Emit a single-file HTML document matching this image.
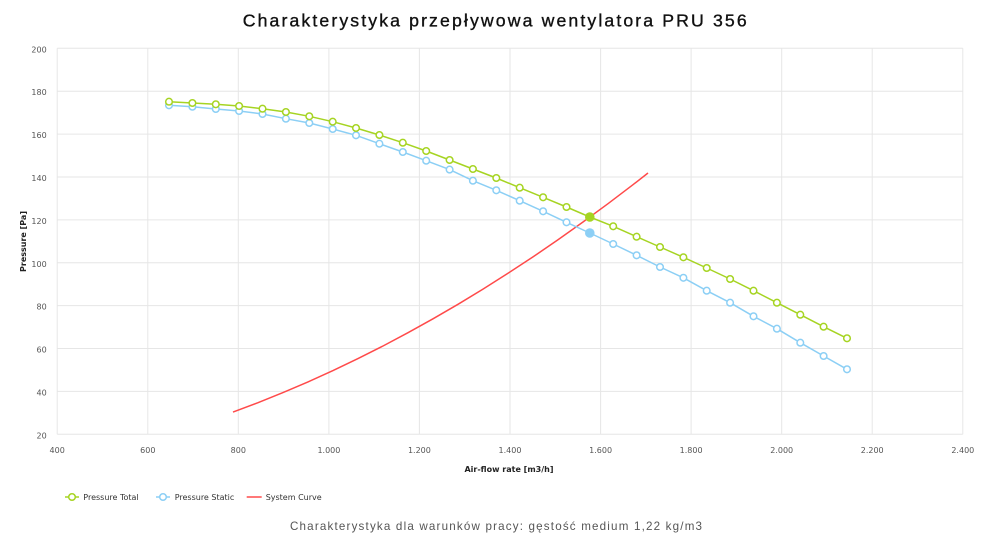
<!DOCTYPE html>
<html>
<head>
<meta charset="utf-8">
<style>
html,body{margin:0;padding:0;background:#fff;}
body{width:1000px;height:541px;overflow:hidden;}
svg{display:block;}
</style>
</head>
<body>
<svg width="1000" height="541" viewBox="0 0 1000 541" xmlns="http://www.w3.org/2000/svg">
<rect width="1000" height="541" fill="#fff"/>
<text x="242.7" y="26.7" font-family="Liberation Sans, sans-serif" font-size="17.7" fill="#111" stroke="#111" stroke-width="0.35" textLength="504" lengthAdjust="spacing">Charakterystyka przepływowa wentylatora PRU 356</text>

<g stroke="#e6e6e6" stroke-width="1" fill="none">
<line x1="57.2" y1="48.3" x2="962.8" y2="48.3"/>
<line x1="57.2" y1="91.2" x2="962.8" y2="91.2"/>
<line x1="57.2" y1="134.1" x2="962.8" y2="134.1"/>
<line x1="57.2" y1="177" x2="962.8" y2="177"/>
<line x1="57.2" y1="219.9" x2="962.8" y2="219.9"/>
<line x1="57.2" y1="262.8" x2="962.8" y2="262.8"/>
<line x1="57.2" y1="305.6" x2="962.8" y2="305.6"/>
<line x1="57.2" y1="348.5" x2="962.8" y2="348.5"/>
<line x1="57.2" y1="391.4" x2="962.8" y2="391.4"/>
<line x1="57.2" y1="434.3" x2="962.8" y2="434.3"/>
<line x1="57.2" y1="48.3" x2="57.2" y2="434.3"/>
<line x1="147.8" y1="48.3" x2="147.8" y2="434.3"/>
<line x1="238.3" y1="48.3" x2="238.3" y2="434.3"/>
<line x1="328.9" y1="48.3" x2="328.9" y2="434.3"/>
<line x1="419.4" y1="48.3" x2="419.4" y2="434.3"/>
<line x1="510" y1="48.3" x2="510" y2="434.3"/>
<line x1="600.6" y1="48.3" x2="600.6" y2="434.3"/>
<line x1="691.1" y1="48.3" x2="691.1" y2="434.3"/>
<line x1="781.7" y1="48.3" x2="781.7" y2="434.3"/>
<line x1="872.2" y1="48.3" x2="872.2" y2="434.3"/>
<line x1="962.8" y1="48.3" x2="962.8" y2="434.3"/>
</g>

<g font-family="DejaVu Sans, Verdana, sans-serif" font-size="8" fill="#555" text-anchor="end">
<text x="46.7" y="52.3">200</text>
<text x="46.7" y="95.2">180</text>
<text x="46.7" y="138.1">160</text>
<text x="46.7" y="181">140</text>
<text x="46.7" y="223.9">120</text>
<text x="46.7" y="266.8">100</text>
<text x="46.7" y="309.6">80</text>
<text x="46.7" y="352.5">60</text>
<text x="46.7" y="395.4">40</text>
<text x="46.7" y="438.3">20</text>
</g>
<g font-family="DejaVu Sans, Verdana, sans-serif" font-size="8" fill="#555" text-anchor="middle">
<text x="57.2" y="453">400</text>
<text x="147.8" y="453">600</text>
<text x="238.3" y="453">800</text>
<text x="328.9" y="453">1.000</text>
<text x="419.4" y="453">1.200</text>
<text x="510" y="453">1.400</text>
<text x="600.6" y="453">1.600</text>
<text x="691.1" y="453">1.800</text>
<text x="781.7" y="453">2.000</text>
<text x="872.2" y="453">2.200</text>
<text x="962.8" y="453">2.400</text>
</g>

<text x="509" y="472" font-family="DejaVu Sans, Verdana, sans-serif" font-size="8" font-weight="bold" fill="#222" text-anchor="middle">Air-flow rate [m3/h]</text>
<text transform="translate(26,241.5) rotate(-90)" x="0" y="0" font-family="DejaVu Sans, Verdana, sans-serif" font-size="8" font-weight="bold" fill="#222" text-anchor="middle">Pressure [Pa]</text>

<!-- System curve -->
<polyline fill="none" stroke="#ff4a4a" stroke-width="1.5" points="233,412.1 258,402.7 283,392.6 308,381.9 333,370.6 358,358.6 383,346 408,332.7 433,318.8 458,304.3 483,289.1 508,273.3 533,256.9 558,239.8 583,222 608,203.7 633,184.7 648,173"/>

<!-- Pressure Total -->
<polyline fill="none" stroke="#a6d422" stroke-width="1.5" points="169,101.7 192.4,103 215.8,104.3 239.1,106 262.5,108.7 285.9,112 309.3,116.3 332.7,121.7 356,128 379.4,135 402.8,142.7 426.2,151 449.6,160 472.9,169 496.3,178 519.7,187.7 543.1,197.3 566.5,207 589.8,217 613.2,226.3 636.6,236.7 660,247 683.4,257.3 706.7,268 730.1,279 753.5,290.7 776.9,302.7 800.3,314.7 823.6,326.7 847,338.3"/>
<!-- Pressure Static -->
<polyline fill="none" stroke="#8ccff5" stroke-width="1.5" points="169,105.3 192.4,106.7 215.8,109 239.1,111 262.5,114 285.9,118.7 309.3,123 332.7,129 356,135.3 379.4,143.7 402.8,152 426.2,160.7 449.6,169.6 472.9,180.7 496.3,190.3 519.7,200.7 543.1,211.3 566.5,222.3 589.8,233 613.2,244 636.6,255.3 660,267 683.4,277.8 706.7,290.7 730.1,302.7 753.5,316.3 776.9,328.7 800.3,342.7 823.6,356 847,369.3"/>

<g fill="#fff" stroke="#8ccff5" stroke-width="1.5">
<circle cx="169" cy="105.3" r="3.3"/><circle cx="192.4" cy="106.7" r="3.3"/><circle cx="215.8" cy="109" r="3.3"/><circle cx="239.1" cy="111" r="3.3"/><circle cx="262.5" cy="114" r="3.3"/><circle cx="285.9" cy="118.7" r="3.3"/><circle cx="309.3" cy="123" r="3.3"/><circle cx="332.7" cy="129" r="3.3"/><circle cx="356" cy="135.3" r="3.3"/><circle cx="379.4" cy="143.7" r="3.3"/><circle cx="402.8" cy="152" r="3.3"/><circle cx="426.2" cy="160.7" r="3.3"/><circle cx="449.6" cy="169.6" r="3.3"/><circle cx="472.9" cy="180.7" r="3.3"/><circle cx="496.3" cy="190.3" r="3.3"/><circle cx="519.7" cy="200.7" r="3.3"/><circle cx="543.1" cy="211.3" r="3.3"/><circle cx="566.5" cy="222.3" r="3.3"/><circle cx="613.2" cy="244" r="3.3"/><circle cx="636.6" cy="255.3" r="3.3"/><circle cx="660" cy="267" r="3.3"/><circle cx="683.4" cy="277.8" r="3.3"/><circle cx="706.7" cy="290.7" r="3.3"/><circle cx="730.1" cy="302.7" r="3.3"/><circle cx="753.5" cy="316.3" r="3.3"/><circle cx="776.9" cy="328.7" r="3.3"/><circle cx="800.3" cy="342.7" r="3.3"/><circle cx="823.6" cy="356" r="3.3"/><circle cx="847" cy="369.3" r="3.3"/>
</g>
<circle cx="589.8" cy="233" r="4.8" fill="#8ccff5"/>

<g fill="#fff" stroke="#a6d422" stroke-width="1.5">
<circle cx="169" cy="101.7" r="3.3"/><circle cx="192.4" cy="103" r="3.3"/><circle cx="215.8" cy="104.3" r="3.3"/><circle cx="239.1" cy="106" r="3.3"/><circle cx="262.5" cy="108.7" r="3.3"/><circle cx="285.9" cy="112" r="3.3"/><circle cx="309.3" cy="116.3" r="3.3"/><circle cx="332.7" cy="121.7" r="3.3"/><circle cx="356" cy="128" r="3.3"/><circle cx="379.4" cy="135" r="3.3"/><circle cx="402.8" cy="142.7" r="3.3"/><circle cx="426.2" cy="151" r="3.3"/><circle cx="449.6" cy="160" r="3.3"/><circle cx="472.9" cy="169" r="3.3"/><circle cx="496.3" cy="178" r="3.3"/><circle cx="519.7" cy="187.7" r="3.3"/><circle cx="543.1" cy="197.3" r="3.3"/><circle cx="566.5" cy="207" r="3.3"/><circle cx="613.2" cy="226.3" r="3.3"/><circle cx="636.6" cy="236.7" r="3.3"/><circle cx="660" cy="247" r="3.3"/><circle cx="683.4" cy="257.3" r="3.3"/><circle cx="706.7" cy="268" r="3.3"/><circle cx="730.1" cy="279" r="3.3"/><circle cx="753.5" cy="290.7" r="3.3"/><circle cx="776.9" cy="302.7" r="3.3"/><circle cx="800.3" cy="314.7" r="3.3"/><circle cx="823.6" cy="326.7" r="3.3"/><circle cx="847" cy="338.3" r="3.3"/>
</g>
<circle cx="589.8" cy="217" r="4.8" fill="#a6d422"/>

<!-- Legend -->
<line x1="65" y1="497" x2="79" y2="497" stroke="#a6d422" stroke-width="1.5"/>
<circle cx="72" cy="497" r="3.3" fill="#fff" stroke="#a6d422" stroke-width="1.5"/>
<text x="83.3" y="500" font-family="DejaVu Sans, Verdana, sans-serif" font-size="8" fill="#333">Pressure Total</text>
<line x1="156" y1="497" x2="170" y2="497" stroke="#8ccff5" stroke-width="1.5"/>
<circle cx="163" cy="497" r="3.3" fill="#fff" stroke="#8ccff5" stroke-width="1.5"/>
<text x="174.7" y="500" font-family="DejaVu Sans, Verdana, sans-serif" font-size="8" fill="#333">Pressure Static</text>
<line x1="246.7" y1="497" x2="261.7" y2="497" stroke="#ff4a4a" stroke-width="1.5"/>
<text x="265.7" y="500" font-family="DejaVu Sans, Verdana, sans-serif" font-size="8" fill="#333">System Curve</text>

<text x="290" y="530" font-family="Liberation Sans, sans-serif" font-size="11.6" fill="#555" textLength="412" lengthAdjust="spacing">Charakterystyka dla warunków pracy: gęstość medium 1,22 kg/m3</text>
</svg>
</body>
</html>
